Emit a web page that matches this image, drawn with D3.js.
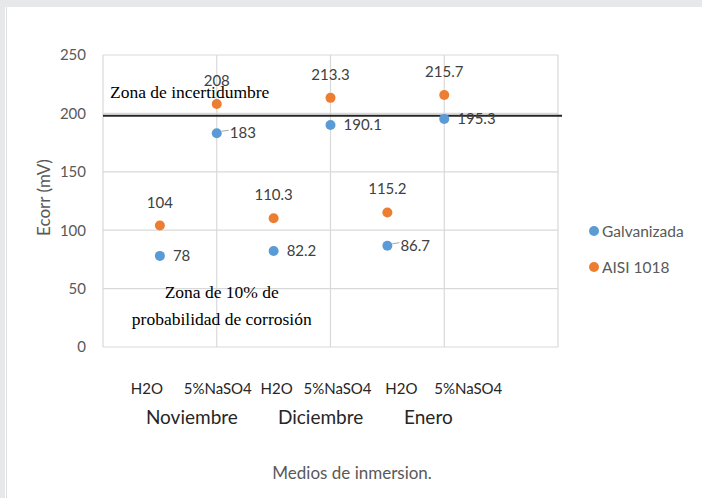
<!DOCTYPE html>
<html>
<head>
<meta charset="utf-8">
<script src="https://cdn.jsdelivr.net/npm/d3@7"></script>
<style>
  body { margin: 0; background: #e6e8ea; }
  #chart { position: absolute; left: 0; top: 0; }
</style>
</head>
<body>
<div id="chart"></div>
<script>
// data
const positions = [0.5, 1, 1.5, 2, 2.5, 3];
const mediums = ["H2O", "5%NaSO4", "H2O", "5%NaSO4", "H2O", "5%NaSO4"];
const months = ["Noviembre", "Diciembre", "Enero"];
const galvanizada = [78, 183, 82.2, 190.1, 86.7, 195.3];
const aisi1018 = [104, 208, 110.3, 213.3, 115.2, 215.7];
const yTicks = [0, 50, 100, 150, 200, 250];
const seriesNames = ["Galvanizada", "AISI 1018"];
const limitValue = 198;

const W = 702, H = 498;
const margin = {top: 55, right: 144, bottom: 151, left: 103};
const width = W - margin.left - margin.right;
const height = H - margin.top - margin.bottom;

const blue = "#5b9bd5", orange = "#ed7d31";
const sans = "Lato, 'Open Sans', sans-serif";
const serif = "'Liberation Serif', 'DejaVu Serif', serif";

// category text boxes sit a bit off the points, like in the source
const mediumOffsets = [-13, 1, 3, 7, 14, 24];
const monthOffsets = [32, 47, 41];

const svg = d3.select("#chart").append("svg")
    .attr("width", W)
    .attr("height", H);

// white panel with thin frame like the source
svg.append("rect").attr("x", 5).attr("y", 7).attr("width", W - 5).attr("height", H - 7).attr("fill", "#ffffff");
svg.append("line").attr("x1", 6.5).attr("x2", 6.5).attr("y1", 7).attr("y2", H)
    .attr("stroke", "#dcdee0").attr("stroke-width", 1);

const g = svg.append("g").attr("transform", "translate(" + margin.left + "," + margin.top + ")");

const x = d3.scaleLinear().domain([0, 4]).range([0, width]);
const y = d3.scaleLinear().domain([0, 250]).range([height, 0]);

// horizontal gridlines
g.selectAll(".hgrid").data(yTicks).enter().append("line")
    .attr("class", "hgrid")
    .attr("x1", 0).attr("x2", width)
    .attr("y1", d => y(d)).attr("y2", d => y(d))
    .attr("stroke", "#d9d9d9").attr("stroke-width", 1.2);

// vertical gridlines
g.selectAll(".vgrid").data([0, 1, 2, 3, 4]).enter().append("line")
    .attr("class", "vgrid")
    .attr("x1", d => x(d)).attr("x2", d => x(d))
    .attr("y1", 0).attr("y2", height)
    .attr("stroke", "#d9d9d9").attr("stroke-width", 1.2);

// y axis
const yAxis = d3.axisLeft(y).tickValues(yTicks).tickSize(0).tickPadding(17);
g.append("g").call(yAxis)
    .call(a => a.select(".domain").remove())
    .selectAll("text")
    .attr("fill", "#595959")
    .style("font", "15px " + sans);

g.append("text")
    .attr("transform", "translate(" + (50 - margin.left) + "," + (y(128)) + ") rotate(-90)")
    .attr("text-anchor", "middle")
    .attr("fill", "#595959")
    .style("font", "17px " + sans)
    .text("Ecorr (mV)");

// limit line
g.append("line")
    .attr("x1", 0).attr("x2", width + 4)
    .attr("y1", y(limitValue)).attr("y2", y(limitValue))
    .attr("stroke", "#262626").attr("stroke-width", 2);

// zone annotations
g.append("text")
    .attr("x", 7).attr("y", y(limitValue) - 18)
    .attr("fill", "#000")
    .style("font", "17.5px " + serif)
    .text("Zona de incertidumbre");

g.append("text")
    .attr("x", x(1) + 5).attr("y", y(42))
    .attr("text-anchor", "middle")
    .attr("fill", "#000")
    .style("font", "17.5px " + serif)
    .text("Zona de 10% de");
g.append("text")
    .attr("x", x(1) + 5).attr("y", y(19))
    .attr("text-anchor", "middle")
    .attr("fill", "#000")
    .style("font", "17.5px " + serif)
    .text("probabilidad de corrosión");

// category labels
g.selectAll(".medium").data(mediums).enter().append("text")
    .attr("class", "medium")
    .attr("x", (d, i) => x(positions[i]) + mediumOffsets[i])
    .attr("y", height + 47)
    .attr("text-anchor", "middle")
    .attr("fill", "#262626")
    .style("font", "15px " + sans)
    .text(d => d);

g.selectAll(".month").data(months).enter().append("text")
    .attr("class", "month")
    .attr("x", (d, i) => x(positions[i * 2]) + monthOffsets[i])
    .attr("y", height + 77)
    .attr("text-anchor", "middle")
    .attr("fill", "#262626")
    .style("font", "19px " + sans)
    .text(d => d);

g.append("text")
    .attr("x", x(2.19)).attr("y", height + 132)
    .attr("text-anchor", "middle")
    .attr("fill", "#595959")
    .style("font", "17px " + sans)
    .text("Medios de inmersion.");

// leader lines for a few blue labels
const leaders = [1, 4];
g.selectAll(".leader").data(leaders).enter().append("line")
    .attr("class", "leader")
    .attr("x1", i => x(positions[i]) + 5).attr("x2", i => x(positions[i]) + 12)
    .attr("y1", i => y(galvanizada[i]) - 2).attr("y2", i => y(galvanizada[i]) - 3)
    .attr("stroke", "#a6a6a6").attr("stroke-width", 1);

// points
g.selectAll(".pt-g").data(galvanizada).enter().append("circle")
    .attr("class", "pt-g")
    .attr("cx", (d, i) => x(positions[i]))
    .attr("cy", d => y(d))
    .attr("r", 5)
    .attr("fill", blue);

g.selectAll(".pt-a").data(aisi1018).enter().append("circle")
    .attr("class", "pt-a")
    .attr("cx", (d, i) => x(positions[i]))
    .attr("cy", d => y(d))
    .attr("r", 5)
    .attr("fill", orange);

// value labels
g.selectAll(".lbl-g").data(galvanizada).enter().append("text")
    .attr("class", "lbl-g")
    .attr("x", (d, i) => x(positions[i]) + 13)
    .attr("y", d => y(d) + 5)
    .attr("fill", "#404040")
    .style("font", "15px " + sans)
    .text(d => d);

g.selectAll(".lbl-a").data(aisi1018).enter().append("text")
    .attr("class", "lbl-a")
    .attr("x", (d, i) => x(positions[i]))
    .attr("y", d => y(d) - 18)
    .attr("text-anchor", "middle")
    .attr("fill", "#404040")
    .style("font", "15px " + sans)
    .text(d => d);

// legend
const legend = svg.append("g").attr("transform", "translate(594,231)");
legend.selectAll("circle").data(seriesNames).enter().append("circle")
    .attr("cx", 0).attr("cy", (d, i) => i * 36)
    .attr("r", 5)
    .attr("fill", (d, i) => i === 0 ? blue : orange);
legend.selectAll("text").data(seriesNames).enter().append("text")
    .attr("x", 8).attr("y", (d, i) => i * 36 + 5.5)
    .attr("fill", "#595959")
    .style("font", "15.5px " + sans)
    .text(d => d);
</script>
</body>
</html>
